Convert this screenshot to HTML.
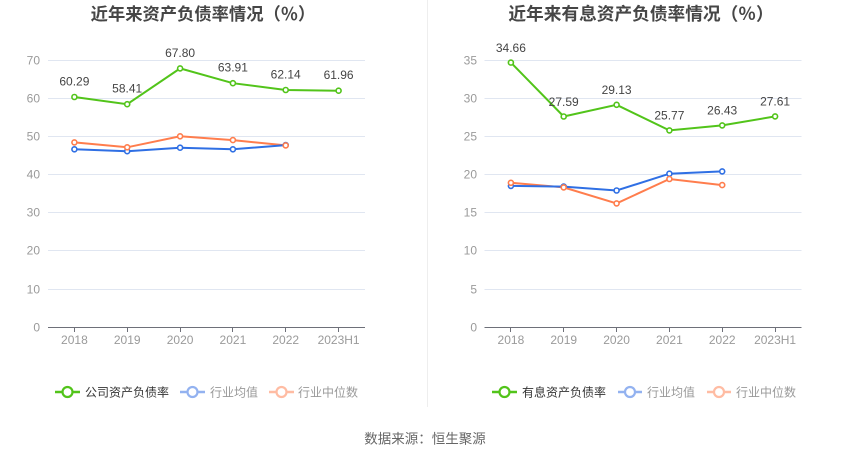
<!DOCTYPE html>
<html><head><meta charset="utf-8"><style>
html,body{margin:0;padding:0;background:#fff;}
svg{display:block;font-family:"Liberation Sans","Noto Sans CJK SC",sans-serif;}
</style></head><body>
<svg width="850" height="459" viewBox="0 0 850 459" xmlns="http://www.w3.org/2000/svg">
<rect width="850" height="459" fill="#fff"/>
<line x1="427.5" y1="0" x2="427.5" y2="407" stroke="#eeeeee" stroke-width="1"/>

<!-- Titles -->
<text x="203" y="20" text-anchor="middle" font-size="17.3" font-weight="bold" fill="#464646" font-family="'Liberation Sans','Noto Sans CJK SC',sans-serif">近年来资产负债率情况（％）</text>
<text x="641" y="20" text-anchor="middle" font-size="17.7" font-weight="bold" fill="#464646" font-family="'Liberation Sans','Noto Sans CJK SC',sans-serif">近年来有息资产负债率情况（％）</text>

<!-- LEFT CHART grid -->
<g stroke="#e0e6f1" stroke-width="1">
<line x1="48" y1="60.5" x2="365" y2="60.5"/>
<line x1="48" y1="98.5" x2="365" y2="98.5"/>
<line x1="48" y1="136.5" x2="365" y2="136.5"/>
<line x1="48" y1="174.5" x2="365" y2="174.5"/>
<line x1="48" y1="212.5" x2="365" y2="212.5"/>
<line x1="48" y1="250.5" x2="365" y2="250.5"/>
<line x1="48" y1="289.5" x2="365" y2="289.5"/>
</g>
<line x1="48" y1="327.5" x2="365" y2="327.5" stroke="#6e7079" stroke-width="1"/>
<g stroke="#6e7079" stroke-width="1">
<line x1="74.5" y1="327.5" x2="74.5" y2="332"/>
<line x1="127.5" y1="327.5" x2="127.5" y2="332"/>
<line x1="180.5" y1="327.5" x2="180.5" y2="332"/>
<line x1="232.5" y1="327.5" x2="232.5" y2="332"/>
<line x1="285.5" y1="327.5" x2="285.5" y2="332"/>
<line x1="338.5" y1="327.5" x2="338.5" y2="332"/>
</g>
<g font-size="12" fill="#9a9a9a" text-anchor="end">
<text x="40" y="64.5">70</text>
<text x="40" y="102.5">60</text>
<text x="40" y="140.5">50</text>
<text x="40" y="178.5">40</text>
<text x="40" y="216.5">30</text>
<text x="40" y="254.5">20</text>
<text x="40" y="293.5">10</text>
<text x="40" y="331.5">0</text>
</g>
<g font-size="12" fill="#9a9a9a" text-anchor="middle">
<text x="74.4" y="344">2018</text>
<text x="127.2" y="344">2019</text>
<text x="180.1" y="344">2020</text>
<text x="232.9" y="344">2021</text>
<text x="285.7" y="344">2022</text>
<text x="338.6" y="344">2023H1</text>
</g>
<!-- left series -->
<polyline fill="none" stroke="#ff7d4d" stroke-width="2" points="74.4,142.4 127.2,147.3 180.1,136.3 232.9,140.1 285.7,145.4"/>
<polyline fill="none" stroke="#2f6fe4" stroke-width="2" points="74.4,149.3 127.2,151.2 180.1,147.7 232.9,149.3 285.7,145.1"/>
<polyline fill="none" stroke="#52c41a" stroke-width="2" points="74.4,97.0 127.2,104.2 180.1,68.4 232.9,83.2 285.7,90.0 338.6,90.7"/>
<g fill="#fff" stroke="#2f6fe4" stroke-width="1.6">
<circle cx="74.4" cy="149.3" r="2.5"/><circle cx="127.2" cy="151.2" r="2.5"/><circle cx="180.1" cy="147.7" r="2.5"/><circle cx="232.9" cy="149.3" r="2.5"/><circle cx="285.7" cy="145.1" r="2.5"/>
</g>
<g fill="#fff" stroke="#ff7d4d" stroke-width="1.6">
<circle cx="74.4" cy="142.4" r="2.5"/><circle cx="127.2" cy="147.3" r="2.5"/><circle cx="180.1" cy="136.3" r="2.5"/><circle cx="232.9" cy="140.1" r="2.5"/><circle cx="285.7" cy="145.4" r="2.5"/>
</g>
<g fill="#fff" stroke="#52c41a" stroke-width="1.6">
<circle cx="74.4" cy="97.0" r="2.5"/><circle cx="127.2" cy="104.2" r="2.5"/><circle cx="180.1" cy="68.4" r="2.5"/><circle cx="232.9" cy="83.2" r="2.5"/><circle cx="285.7" cy="90.0" r="2.5"/><circle cx="338.6" cy="90.7" r="2.5"/>
</g>
<g font-size="12" fill="#444" text-anchor="middle">
<text x="74.4" y="85.5">60.29</text>
<text x="127.2" y="92.5">58.41</text>
<text x="180.1" y="57">67.80</text>
<text x="232.9" y="71.5">63.91</text>
<text x="285.7" y="78.5">62.14</text>
<text x="338.6" y="79">61.96</text>
</g>
<!-- left legend -->
<line x1="55" y1="392" x2="80" y2="392" stroke="#52c41a" stroke-width="2.5"/>
<circle cx="67.5" cy="392" r="5" fill="#fff" stroke="#52c41a" stroke-width="2.2"/>
<text x="85" y="396.5" font-size="12" fill="#333">公司资产负债率</text>
<line x1="180" y1="392" x2="205" y2="392" stroke="#93b2f0" stroke-width="2.5"/>
<circle cx="192.5" cy="392" r="5" fill="#fff" stroke="#93b2f0" stroke-width="2.2"/>
<text x="210" y="396.5" font-size="12" fill="#999">行业均值</text>
<line x1="269" y1="392" x2="294" y2="392" stroke="#ffbca3" stroke-width="2.5"/>
<circle cx="281.5" cy="392" r="5" fill="#fff" stroke="#ffbca3" stroke-width="2.2"/>
<text x="298" y="396.5" font-size="12" fill="#999">行业中位数</text>

<!-- RIGHT CHART grid -->
<g stroke="#e0e6f1" stroke-width="1">
<line x1="484.5" y1="60.5" x2="801.5" y2="60.5"/>
<line x1="484.5" y1="98.5" x2="801.5" y2="98.5"/>
<line x1="484.5" y1="136.5" x2="801.5" y2="136.5"/>
<line x1="484.5" y1="174.5" x2="801.5" y2="174.5"/>
<line x1="484.5" y1="212.5" x2="801.5" y2="212.5"/>
<line x1="484.5" y1="250.5" x2="801.5" y2="250.5"/>
<line x1="484.5" y1="289.5" x2="801.5" y2="289.5"/>
</g>
<line x1="484.5" y1="327.5" x2="801.5" y2="327.5" stroke="#6e7079" stroke-width="1"/>
<g stroke="#6e7079" stroke-width="1">
<line x1="510.5" y1="327.5" x2="510.5" y2="332"/>
<line x1="563.5" y1="327.5" x2="563.5" y2="332"/>
<line x1="616.5" y1="327.5" x2="616.5" y2="332"/>
<line x1="669.5" y1="327.5" x2="669.5" y2="332"/>
<line x1="722.5" y1="327.5" x2="722.5" y2="332"/>
<line x1="775.5" y1="327.5" x2="775.5" y2="332"/>
</g>
<g font-size="12" fill="#9a9a9a" text-anchor="end">
<text x="477" y="64.5">35</text>
<text x="477" y="102.5">30</text>
<text x="477" y="140.5">25</text>
<text x="477" y="178.5">20</text>
<text x="477" y="216.5">15</text>
<text x="477" y="254.5">10</text>
<text x="477" y="293.5">5</text>
<text x="477" y="331.5">0</text>
</g>
<g font-size="12" fill="#9a9a9a" text-anchor="middle">
<text x="510.9" y="344">2018</text>
<text x="563.7" y="344">2019</text>
<text x="616.6" y="344">2020</text>
<text x="669.4" y="344">2021</text>
<text x="722.2" y="344">2022</text>
<text x="775.1" y="344">2023H1</text>
</g>
<polyline fill="none" stroke="#ff7d4d" stroke-width="2" points="510.9,182.8 563.7,187.4 616.6,203.4 669.4,179.0 722.2,185.1"/>
<polyline fill="none" stroke="#2f6fe4" stroke-width="2" points="510.9,185.9 563.7,186.6 616.6,190.5 669.4,173.7 722.2,171.4"/>
<polyline fill="none" stroke="#52c41a" stroke-width="2" points="510.9,62.6 563.7,116.5 616.6,104.8 669.4,130.4 722.2,125.4 775.1,116.4"/>
<g fill="#fff" stroke="#2f6fe4" stroke-width="1.6">
<circle cx="510.9" cy="185.9" r="2.5"/><circle cx="563.7" cy="186.6" r="2.5"/><circle cx="616.6" cy="190.5" r="2.5"/><circle cx="669.4" cy="173.7" r="2.5"/><circle cx="722.2" cy="171.4" r="2.5"/>
</g>
<g fill="#fff" stroke="#ff7d4d" stroke-width="1.6">
<circle cx="510.9" cy="182.8" r="2.5"/><circle cx="563.7" cy="187.4" r="2.5"/><circle cx="616.6" cy="203.4" r="2.5"/><circle cx="669.4" cy="179.0" r="2.5"/><circle cx="722.2" cy="185.1" r="2.5"/>
</g>
<g fill="#fff" stroke="#52c41a" stroke-width="1.6">
<circle cx="510.9" cy="62.6" r="2.5"/><circle cx="563.7" cy="116.5" r="2.5"/><circle cx="616.6" cy="104.8" r="2.5"/><circle cx="669.4" cy="130.4" r="2.5"/><circle cx="722.2" cy="125.4" r="2.5"/><circle cx="775.1" cy="116.4" r="2.5"/>
</g>
<g font-size="12" fill="#444" text-anchor="middle">
<text x="510.9" y="52">34.66</text>
<text x="563.7" y="106">27.59</text>
<text x="616.6" y="94">29.13</text>
<text x="669.4" y="119.5">25.77</text>
<text x="722.2" y="114.5">26.43</text>
<text x="775.1" y="105.5">27.61</text>
</g>
<!-- right legend -->
<line x1="492" y1="392" x2="517" y2="392" stroke="#52c41a" stroke-width="2.5"/>
<circle cx="504.5" cy="392" r="5" fill="#fff" stroke="#52c41a" stroke-width="2.2"/>
<text x="522" y="396.5" font-size="12" fill="#333">有息资产负债率</text>
<line x1="618" y1="392" x2="642" y2="392" stroke="#93b2f0" stroke-width="2.5"/>
<circle cx="630" cy="392" r="5" fill="#fff" stroke="#93b2f0" stroke-width="2.2"/>
<text x="647" y="396.5" font-size="12" fill="#999">行业均值</text>
<line x1="707" y1="392" x2="731" y2="392" stroke="#ffbca3" stroke-width="2.5"/>
<circle cx="719" cy="392" r="5" fill="#fff" stroke="#ffbca3" stroke-width="2.2"/>
<text x="736" y="396.5" font-size="12" fill="#999">行业中位数</text>

<!-- footer -->
<text x="425" y="443.5" text-anchor="middle" font-size="13.5" fill="#666">数据来源：恒生聚源</text>
</svg>
</body></html>
